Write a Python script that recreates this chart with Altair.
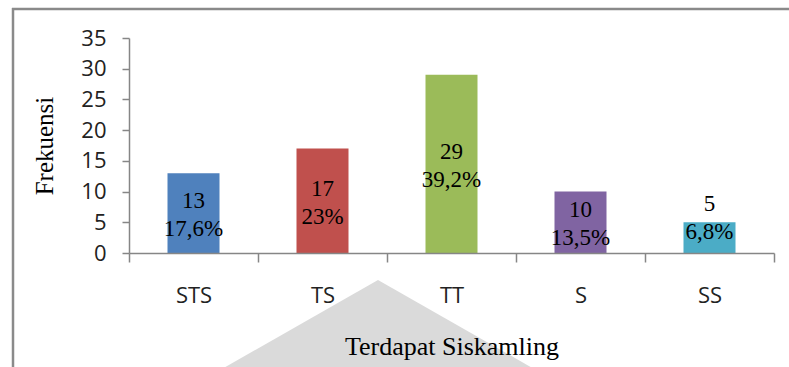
import altair as alt
import pandas as pd

# Survey answers about the neighbourhood watch post
categories = ["STS", "TS", "TT", "S", "SS"]
frequencies = [13, 17, 29, 10, 5]
percents = ["17,6%", "23%", "39,2%", "13,5%", "6,8%"]
bar_colors = ["#4F81BD", "#C0504D", "#9BBB59", "#8064A2", "#4BACC6"]

df = pd.DataFrame({"kategori": categories, "frekuensi": frequencies, "persen": percents})
one = pd.DataFrame({"k": [0]})

AXIS_GRAY = "#868686"
FRAME_GRAY = "#8a8a8a"
SERIF = "Liberation Serif"
SANS = "Open Sans"

x_scale = alt.Scale(domain=categories, paddingInner=0, paddingOuter=0)
y_scale = alt.Scale(domain=[0, 35], nice=False)

x_enc = alt.X(
    "kategori:N",
    sort=categories,
    scale=x_scale,
    axis=alt.Axis(
        title="Terdapat Siskamling",
        titleFont=SERIF,
        titleFontSize=26,
        titleFontWeight="normal",
        titleColor="black",
        titleY=93,
        titleBaseline="middle",
        labelAngle=0,
        labelFont=SANS,
        labelFontSize=22,
        labelColor="#222222",
        labelPadding=23,
        tickBand="extent",
        tickSize=9,
        tickColor=AXIS_GRAY,
        domainColor=AXIS_GRAY,
        tickWidth=1.5,
        domainWidth=1.5,
        zindex=1,
    ),
)

y_enc = alt.Y(
    "frekuensi:Q",
    scale=y_scale,
    axis=alt.Axis(
        title="Frekuensi",
        titleFont=SERIF,
        titleFontSize=25,
        titleFontWeight="normal",
        titleColor="black",
        titleAngle=-90,
        titleX=-85,
        titleY=107.5,
        titleAlign="center",
        titleBaseline="middle",
        values=[0, 5, 10, 15, 20, 25, 30, 35],
        labelOverlap=False,
        grid=False,
        labelFont=SANS,
        labelFontSize=22,
        labelColor="#222222",
        labelPadding=16,
        tickSize=7,
        tickColor=AXIS_GRAY,
        domainColor=AXIS_GRAY,
        tickWidth=1.5,
        domainWidth=1.5,
        zindex=1,
    ),
)

# Faint watermark shape behind the plot
watermark = alt.Chart(one).mark_point(
    shape="M0,-0.3L1,0.27L-1,0.27Z",
    filled=True,
    color="#dadada",
    opacity=1,
    size=250000,
    strokeWidth=0,
).encode(x=alt.value(249), y=alt.value(317))

bars = alt.Chart(df).mark_bar(size=52).encode(
    x=x_enc,
    y=y_enc,
    color=alt.Color(
        "kategori:N",
        scale=alt.Scale(domain=categories, range=bar_colors),
        legend=None,
    ),
)

# Two-line value labels: centred in the bar, or lifted over the top of a
# bar too short to hold them
labels = (
    alt.Chart(df)
    .transform_calculate(
        teks="datum.frekuensi + '\\n' + datum.persen",
        posisi="datum.frekuensi >= 9 ? datum.frekuensi / 2 : datum.frekuensi + 1",
    )
    .mark_text(
        font=SERIF,
        fontSize=23,
        color="black",
        lineBreak="\n",
        lineHeight=28,
        baseline="middle",
        align="center",
        dy=-12,
    )
    .encode(
        x=alt.X("kategori:N", sort=categories, scale=x_scale, axis=None),
        y=alt.Y("posisi:Q", scale=y_scale, axis=None),
        text="teks:N",
    )
)

# Chart-area border on the left and top
frame_left = alt.Chart(one).mark_rule(color=FRAME_GRAY, strokeWidth=2.5).encode(
    x=alt.value(-116), y=alt.value(-30), y2=alt.value(329)
)
frame_top = alt.Chart(one).mark_rule(color=FRAME_GRAY, strokeWidth=2.5).encode(
    x=alt.value(-117), x2=alt.value(660), y=alt.value(-29)
)

chart = (
    alt.layer(watermark, bars, labels, frame_left, frame_top)
    .resolve_axis(x="independent", y="independent")
    .properties(
        width=645,
        height=215,
        autosize=alt.AutoSizeParams(type="none"),
        padding={"left": 129, "top": 38, "right": 15, "bottom": 114},
        background="white",
    )
    .configure_view(stroke=None)
)

chart.save("out.html", embed_options={"renderer": "svg", "actions": False})
